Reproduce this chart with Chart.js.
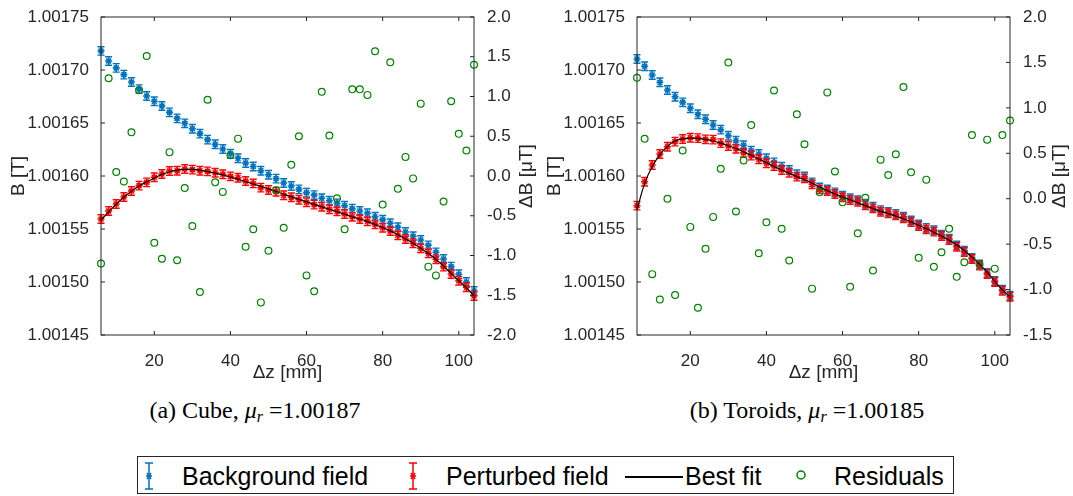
<!DOCTYPE html>
<html>
<head>
<meta charset="utf-8">
<script src="https://cdn.jsdelivr.net/npm/chart.js@4.4.1/dist/chart.umd.min.js"></script>
<style>
  body { margin: 0; background: #fff; width: 1073px; height: 496px; position: relative; overflow: hidden; font-family: "Liberation Sans", Arial, sans-serif; }
  canvas { position: absolute; top: 0; }
  #cubeChart { left: 0; }
  #toroidChart { left: 536px; }
  .caption { position: absolute; top: 398px; font-family: "Liberation Serif", "Times New Roman", serif; font-size: 24px; line-height: 24px; transform: translateX(-50%); white-space: nowrap; color: #000; }
  .caption sub { font-size: 16px; vertical-align: -4px; line-height: 0; }
  .legend { position: absolute; left: 137px; top: 456px; width: 817px; height: 38px; border: 1px solid #262626; box-sizing: border-box; }
  .legend .txt { position: absolute; top: 7px; font-size: 25px; line-height: 25px; color: #000; white-space: nowrap; }
  .legend svg { position: absolute; }
  .legend .fitline { position: absolute; left: 487px; top: 19px; width: 58px; height: 1.5px; background: #000; }
</style>
</head>
<body>
<canvas id="cubeChart" width="545" height="388"></canvas>
<canvas id="toroidChart" width="537" height="388"></canvas>

<div class="caption" style="left:255px">(a) Cube, <i>μ</i><sub><i>r</i></sub> =1.00187</div>
<div class="caption" style="left:807px">(b) Toroids, <i>μ</i><sub><i>r</i></sub> =1.00185</div>

<div class="legend">
  <svg style="left:5px;top:5px" width="12" height="28"><g stroke="#0072BD" stroke-width="1.5" fill="none"><path d="M6 1V27M2 1H10M2 27H10"/><path d="M3 14H9M4 11L8 17M8 11L4 17"/></g></svg>
  <span class="txt" style="left:44px">Background field</span>
  <svg style="left:269px;top:5px" width="12" height="28"><g stroke="#FF0000" stroke-width="1.5" fill="none"><path d="M6 1V27M2 1H10M2 27H10"/><path d="M3 14H9M4 11L8 17M8 11L4 17"/></g></svg>
  <span class="txt" style="left:308px">Perturbed field</span>
  <div class="fitline"></div>
  <span class="txt" style="left:547px">Best fit</span>
  <svg style="left:657px;top:12px" width="12" height="12"><circle cx="6" cy="6" r="4" stroke="#008000" stroke-width="1.5" fill="none"/></svg>
  <span class="txt" style="left:696px">Residuals</span>
</div>

<script>
// positions along the axis [mm]
const zPos = [6, 8, 10, 12, 14, 16, 18, 20, 22, 24, 26, 28, 30, 32, 34, 36, 38, 40, 42, 44,
  46, 48, 50, 52, 54, 56, 58, 60, 62, 64, 66, 68, 70, 72, 74, 76, 78, 80, 82, 84,
  86, 88, 90, 92, 94, 96, 98, 100, 102, 104];

// (a) cube
const cubeBackground = [1.001718, 1.0017085, 1.001702, 1.0016956, 1.0016887, 1.001682, 1.0016755, 1.0016705, 1.001666, 1.00166,
  1.0016544, 1.0016497, 1.0016446, 1.00164, 1.0016343, 1.00163, 1.0016255, 1.001621, 1.0016167, 1.0016123,
  1.001609, 1.001605, 1.0016012, 1.0015975, 1.0015934, 1.0015906, 1.0015874, 1.0015843, 1.001582, 1.001579,
  1.0015767, 1.0015742, 1.001572, 1.0015692, 1.001567, 1.0015648, 1.0015616, 1.0015588, 1.0015554, 1.0015516,
  1.0015472, 1.0015431, 1.0015396, 1.0015346, 1.001528, 1.0015217, 1.0015145, 1.0015073, 1.0015, 1.0014915];
const cubePerturbed = [1.0015594, 1.001567, 1.0015736, 1.0015802, 1.0015858, 1.0015909, 1.001594, 1.0015988, 1.0016019, 1.0016047,
  1.001605, 1.0016066, 1.001606, 1.001605, 1.0016044, 1.0016031, 1.0016016, 1.0015997, 1.0015984, 1.0015953,
  1.001593, 1.001589, 1.0015868, 1.0015852, 1.0015818, 1.00158, 1.0015776, 1.0015752, 1.001573, 1.001571,
  1.0015686, 1.0015667, 1.0015642, 1.0015616, 1.0015594, 1.0015573, 1.0015544, 1.0015512, 1.0015481, 1.0015441,
  1.0015406, 1.0015365, 1.0015318, 1.0015271, 1.0015214, 1.0015145, 1.0015075, 1.0015012, 1.001495, 1.0014868];
const cubeFit = [1.0015585, 1.001566, 1.0015735, 1.00158, 1.0015857, 1.0015905, 1.0015945, 1.001598, 1.0016015, 1.001604,
  1.0016055, 1.0016062, 1.0016062, 1.0016055, 1.0016042, 1.0016027, 1.001601, 1.001599, 1.0015968, 1.0015947,
  1.0015925, 1.0015902, 1.0015878, 1.0015855, 1.0015828, 1.0015805, 1.001578, 1.0015756, 1.0015732, 1.0015709,
  1.0015686, 1.0015663, 1.001564, 1.0015616, 1.0015594, 1.001557, 1.0015543, 1.0015514, 1.0015482, 1.0015445,
  1.0015406, 1.0015365, 1.0015318, 1.0015268, 1.0015212, 1.001515, 1.0015082, 1.0015012, 1.0014945, 1.0014868];
const cubeResiduals = [-1.10, 1.23, 0.05, -0.07, 0.55, 1.08, 1.51, -0.84, -1.04, 0.30,
  -1.06, -0.15, -0.63, -1.46, 0.96, -0.08, -0.20, 0.26, 0.47, -0.89,
  -0.67, -1.59, -0.94, -0.18, -0.65, 0.14, 0.50, -1.25, -1.45, 1.06,
  0.51, -0.28, -0.67, 1.09, 1.09, 1.02, 1.57, -0.36, 1.43, -0.16,
  0.24, -0.03, 0.91, -1.14, -1.25, -0.32, 0.94, 0.53, 0.32, 1.40];

// (b) toroids
const toroidBackground = [1.0017104, 1.0017035, 1.0016953, 1.0016884, 1.0016811, 1.0016748, 1.0016695, 1.0016639, 1.0016582, 1.0016535,
  1.0016481, 1.0016437, 1.001638, 1.0016333, 1.001629, 1.0016239, 1.0016208, 1.0016167, 1.0016129, 1.0016088,
  1.0016057, 1.0016016, 1.0015995, 1.001594, 1.0015892, 1.0015873, 1.0015846, 1.0015815, 1.001579, 1.0015772,
  1.0015738, 1.001571, 1.0015678, 1.0015662, 1.0015643, 1.0015615, 1.001558, 1.0015542, 1.0015511, 1.0015489,
  1.0015447, 1.0015409, 1.0015345, 1.0015295, 1.0015228, 1.0015165, 1.0015085, 1.001501, 1.0014928, 1.001487];
const toroidPerturbed = [1.001572, 1.0015946, 1.0016104, 1.0016208, 1.0016276, 1.0016324, 1.0016349, 1.0016361, 1.0016357, 1.0016346,
  1.0016343, 1.001631, 1.0016283, 1.0016257, 1.001622, 1.0016192, 1.0016158, 1.001612, 1.0016094, 1.0016057,
  1.0016031, 1.0015994, 1.0015978, 1.0015922, 1.0015874, 1.0015858, 1.001583, 1.00158, 1.0015774, 1.0015757,
  1.0015723, 1.0015695, 1.0015663, 1.0015648, 1.0015629, 1.0015601, 1.0015566, 1.0015528, 1.0015497, 1.0015475,
  1.0015434, 1.0015396, 1.0015333, 1.0015283, 1.0015217, 1.0015154, 1.0015075, 1.0015, 1.0014918, 1.0014861];
const toroidFit = [1.001568, 1.001593, 1.001609, 1.00162, 1.001628, 1.001633, 1.001635, 1.0016358, 1.0016355, 1.0016345,
  1.001633, 1.001631, 1.0016285, 1.001626, 1.0016228, 1.0016195, 1.001616, 1.0016125, 1.001609, 1.0016057,
  1.0016025, 1.0015995, 1.0015965, 1.0015932, 1.0015895, 1.0015862, 1.001583, 1.0015802, 1.0015775, 1.0015748,
  1.001572, 1.0015693, 1.0015666, 1.0015645, 1.0015622, 1.0015597, 1.0015567, 1.0015535, 1.0015503, 1.001547,
  1.0015434, 1.0015395, 1.0015348, 1.0015295, 1.0015235, 1.0015168, 1.0015092, 1.0015008, 1.0014925, 1.001486];
const toroidResiduals = [1.33, 0.66, -0.83, -1.11, 0.00, -1.06, 0.53, -0.31, -1.20, -0.55,
  -0.20, 0.33, 1.50, -0.14, 0.42, 0.81, -0.60, -0.26, 1.19, -0.33,
  -0.68, 0.93, 0.60, -0.99, 0.07, 1.17, 0.30, -0.04, -0.97, -0.38,
  0.01, -0.79, 0.43, 0.26, 0.49, 1.23, 0.29, -0.65, 0.21, -0.75,
  -0.59, -0.33, -0.86, -0.70, 0.70, -0.72, 0.65, -0.77, 0.70, 0.86];

// error bar half-width [T]
const fieldErr = 0.000004;

// tick labels
const xTicks = [20, 40, 60, 80, 100];
const bTicks = [1.00145, 1.0015, 1.00155, 1.0016, 1.00165, 1.0017, 1.00175];
const cubeResTicks = [-2, -1.5, -1, -0.5, 0, 0.5, 1, 1.5, 2];
const toroidResTicks = [-1.5, -1, -0.5, 0, 0.5, 1, 1.5, 2];

const BLUE = '#0072BD';
const RED = '#FF0000';
const GREEN = '#008000';
const AXIS = '#262626';
const FONT = '"Liberation Sans", Arial, sans-serif';
const tickFont = { family: FONT, size: 17 };
const titleFont = { family: FONT, size: 19 };

function pts(ys) {
  return zPos.map((z, i) => ({ x: z, y: ys[i] }));
}

// vertical error bars, drawn right under each dataset's own markers
const errorBars = {
  id: 'errorBars',
  beforeDatasetDraw(chart, args) {
    const ds = chart.data.datasets[args.index];
    if (!ds.errColor) return;
    const xs = chart.scales.x;
    const ys = chart.scales.y;
    const ctx = chart.ctx;
    ctx.save();
    ctx.strokeStyle = ds.errColor;
    ctx.lineWidth = 1.4;
    ds.data.forEach(p => {
      const px = xs.getPixelForValue(p.x);
      const top = ys.getPixelForValue(p.y + ds.err);
      const bot = ys.getPixelForValue(p.y - ds.err);
      ctx.beginPath();
      ctx.moveTo(px, top); ctx.lineTo(px, bot);
      ctx.moveTo(px - 3.5, top); ctx.lineTo(px + 3.5, top);
      ctx.moveTo(px - 3.5, bot); ctx.lineTo(px + 3.5, bot);
      ctx.stroke();
    });
    ctx.restore();
  }
};

// box round the plot with inward ticks, and the right-hand title read bottom to top
const frame = {
  id: 'frame',
  afterDraw(chart, args, opts) {
    const { ctx, chartArea: a, scales } = chart;
    ctx.save();
    ctx.strokeStyle = AXIS;
    ctx.lineWidth = 1;
    ctx.strokeRect(a.left, a.top, a.right - a.left, a.bottom - a.top);
    ctx.beginPath();
    scales.x.ticks.forEach(t => {
      const p = scales.x.getPixelForValue(t.value);
      ctx.moveTo(p, a.bottom); ctx.lineTo(p, a.bottom - 4);
      ctx.moveTo(p, a.top); ctx.lineTo(p, a.top + 4);
    });
    scales.y.ticks.forEach(t => {
      const p = scales.y.getPixelForValue(t.value);
      ctx.moveTo(a.left, p); ctx.lineTo(a.left + 4, p);
    });
    scales.y1.ticks.forEach(t => {
      const p = scales.y1.getPixelForValue(t.value);
      ctx.moveTo(a.right, p); ctx.lineTo(a.right - 4, p);
    });
    ctx.stroke();

    ctx.translate(a.right + opts.titleOffset, (a.top + a.bottom) / 2);
    ctx.rotate(-Math.PI / 2);
    ctx.fillStyle = AXIS;
    ctx.font = titleFont.size + 'px ' + FONT;
    ctx.textAlign = 'center';
    ctx.textBaseline = 'middle';
    ctx.fillText(opts.title, 0, 0);
    ctx.restore();
  }
};

function makeChart(id, bg, pert, fit, res, resTicks, resMin, resMax, rightWidth, titleOffset) {
  const ctx = document.getElementById(id).getContext('2d');
  return new Chart(ctx, {
    type: 'scatter',
    data: {
      datasets: [
        {
          label: 'Residuals', data: pts(res), yAxisID: 'y1', order: 0, clip: false,
          pointStyle: 'circle', pointRadius: 3.4, borderColor: GREEN, backgroundColor: 'rgba(0,0,0,0)', borderWidth: 1.2
        },
        {
          label: 'Best fit', data: pts(fit), yAxisID: 'y', order: 1, showLine: true,
          borderColor: '#000', borderWidth: 1.2, pointRadius: 0, tension: 0.4
        },
        {
          label: 'Perturbed field', data: pts(pert), yAxisID: 'y', order: 2, clip: false,
          errColor: RED, err: fieldErr,
          pointStyle: 'star', pointRadius: 3.5, borderColor: RED, borderWidth: 1.6
        },
        {
          label: 'Background field', data: pts(bg), yAxisID: 'y', order: 3, clip: false,
          errColor: BLUE, err: fieldErr,
          pointStyle: 'star', pointRadius: 3.5, borderColor: BLUE, borderWidth: 1.6
        }
      ]
    },
    options: {
      responsive: false,
      animation: false,
      devicePixelRatio: 1,
      layout: { padding: { top: 17, left: 0, right: 0, bottom: 0 } },
      plugins: {
        legend: { display: false },
        tooltip: { enabled: false },
        frame: { title: 'ΔB [μT]', titleOffset: titleOffset }
      },
      scales: {
        x: {
          type: 'linear', min: 6, max: 104,
          grid: { display: false }, border: { display: false },
          afterBuildTicks: s => { s.ticks = xTicks.map(v => ({ value: v })); },
          ticks: { font: tickFont, color: AXIS, padding: 8, callback: v => String(v) },
          title: { display: true, text: 'Δz [mm]', font: titleFont, color: AXIS, padding: { top: 0, bottom: 4 } },
          afterFit: s => { s.height = 53; }
        },
        y: {
          type: 'linear', position: 'left', min: 1.00145, max: 1.00175,
          grid: { display: false }, border: { display: false },
          afterBuildTicks: s => { s.ticks = bTicks.map(v => ({ value: v })); },
          ticks: { font: tickFont, color: AXIS, padding: 4, callback: v => v.toFixed(5) },
          title: { display: true, text: 'B [T]', font: titleFont, color: AXIS, padding: { top: 7, bottom: 0 } },
          afterFit: s => { s.width = 101; }
        },
        y1: {
          type: 'linear', position: 'right', min: resMin, max: resMax,
          grid: { display: false }, border: { display: false },
          afterBuildTicks: s => { s.ticks = resTicks.map(v => ({ value: v })); },
          ticks: { font: tickFont, color: AXIS, padding: 5, callback: v => v.toFixed(1) },
          afterFit: s => { s.width = rightWidth; }
        }
      }
    },
    plugins: [errorBars, frame]
  });
}

makeChart('cubeChart', cubeBackground, cubePerturbed, cubeFit, cubeResiduals, cubeResTicks, -2, 2, 71, 53);
makeChart('toroidChart', toroidBackground, toroidPerturbed, toroidFit, toroidResiduals, toroidResTicks, -1.5, 2, 63, 50);
</script>
</body>
</html>
